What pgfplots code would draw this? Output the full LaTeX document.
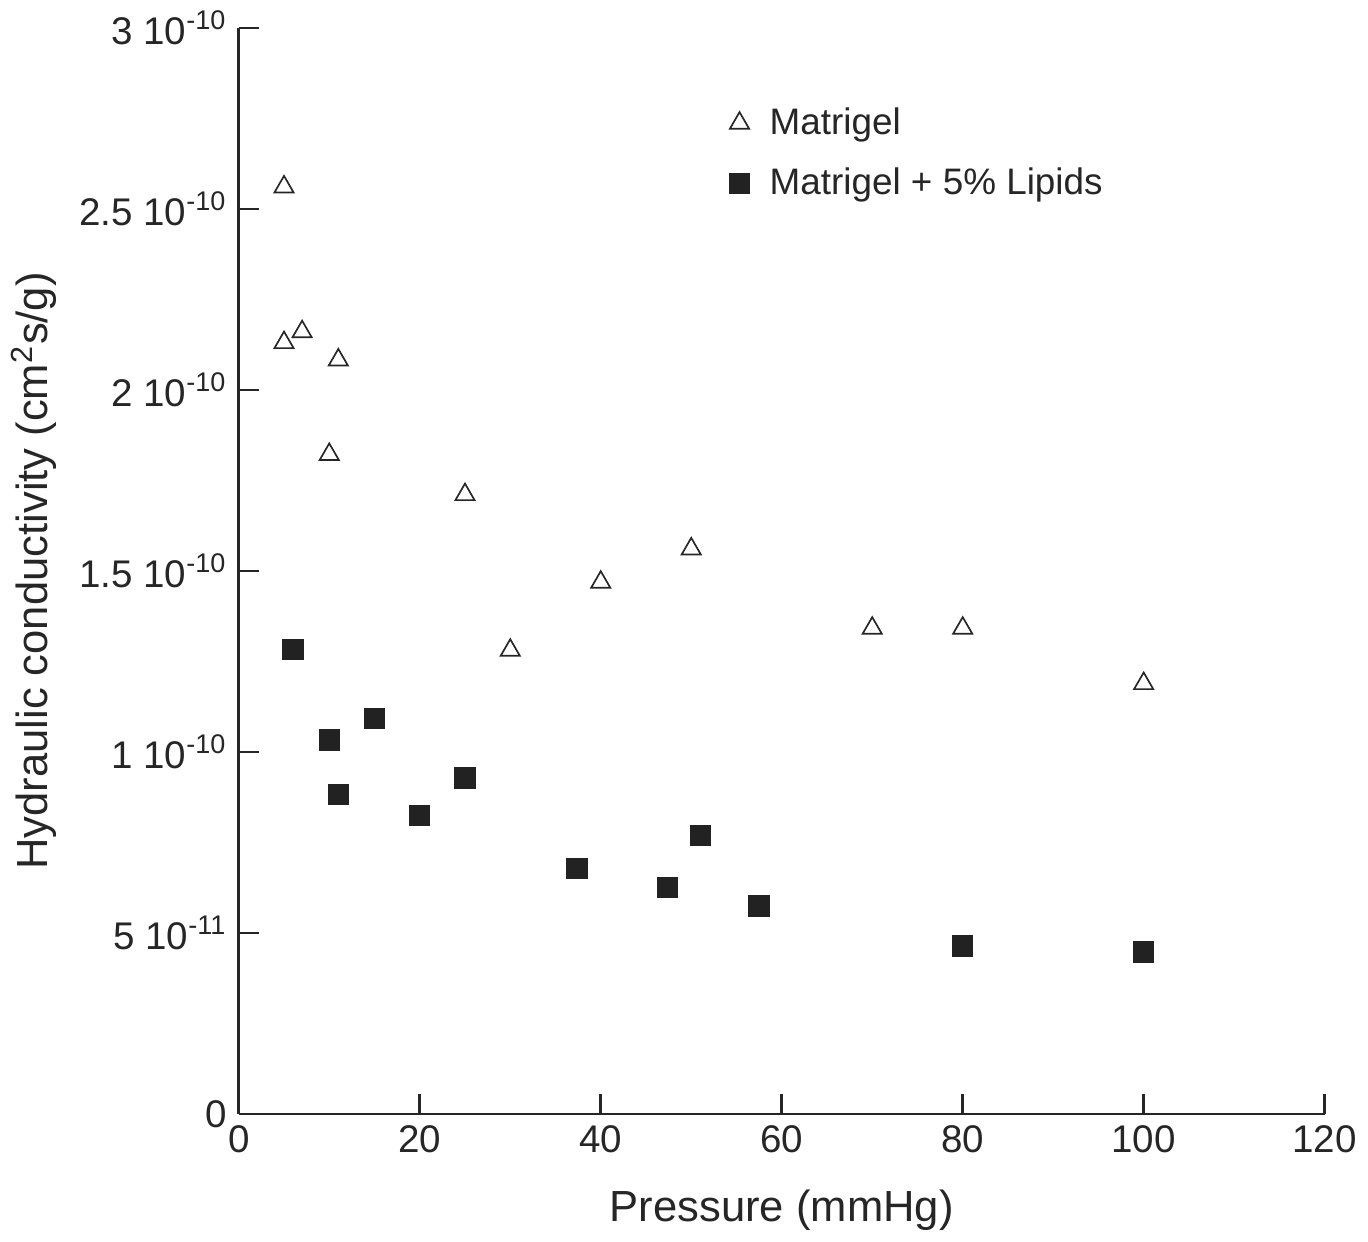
\documentclass[border=0pt]{standalone}
\usepackage{fontspec}
\setmainfont{Liberation Sans}
\usepackage{pgfplots}
\pgfplotsset{compat=1.18}

\definecolor{sqfill}{HTML}{222222}

\begin{document}
\begin{tikzpicture}
\begin{axis}[
  scale only axis,
  width=324pt, height=324pt,
  xmin=0, xmax=120, ymin=0, ymax=3,
  axis lines=left,
  axis line style={-, line width=0.8pt, black!85},
  tick style={line width=0.8pt, black!85},
  major tick length=6pt,
  tick align=inside,
  xtick={0,20,...,120},
  ytick={0,0.5,1,1.5,2,2.5,3},
  yticklabels={0, 5 10\textsuperscript{-11}, 1 10\textsuperscript{-10}, 1.5 10\textsuperscript{-10}, 2 10\textsuperscript{-10}, 2.5 10\textsuperscript{-10}, 3 10\textsuperscript{-10}},
  /pgf/number format/assume math mode=true,
  ticklabel style={font=\fontsize{11.5}{13}\selectfont, text=black!85},
  xlabel={Pressure (mmHg)},
  ylabel={Hydraulic conductivity (cm\textsuperscript{2}s/g)},
  label style={font=\fontsize{13}{15}\selectfont, text=black!85},
  xlabel style={yshift=-4pt},
  legend style={draw=none, fill=none, at={(0.442,0.94)}, anchor=north west,
    font=\fontsize{11}{13}\selectfont, text=black!85, row sep=4.5pt,
    /tikz/every odd column/.append style={column sep=4pt}},
  legend cell align=left,
  clip=false,
]
\addplot[only marks, mark=triangle, mark size=3.3pt, mark options={draw=black!85, line width=0.5pt}]
coordinates {
  (5,2.561) (5,2.131) (7,2.161) (11,2.083) (10,1.822) (25,1.711)
  (30,1.281) (40,1.469) (50,1.561) (70,1.342) (80,1.342) (100,1.189)
};
\addlegendentry{Matrigel}
\addplot[only marks, mark=square*, mark size=3pt, mark options={draw=sqfill, fill=sqfill}]
coordinates {
  (6,1.283) (10,1.033) (15,1.092) (11,0.883) (20,0.825) (25,0.928)
  (37.4,0.678) (47.4,0.625) (51,0.769) (57.5,0.575) (80,0.464) (100,0.447)
};
\addlegendentry{Matrigel + 5\% Lipids}
\end{axis}
\end{tikzpicture}
\end{document}
